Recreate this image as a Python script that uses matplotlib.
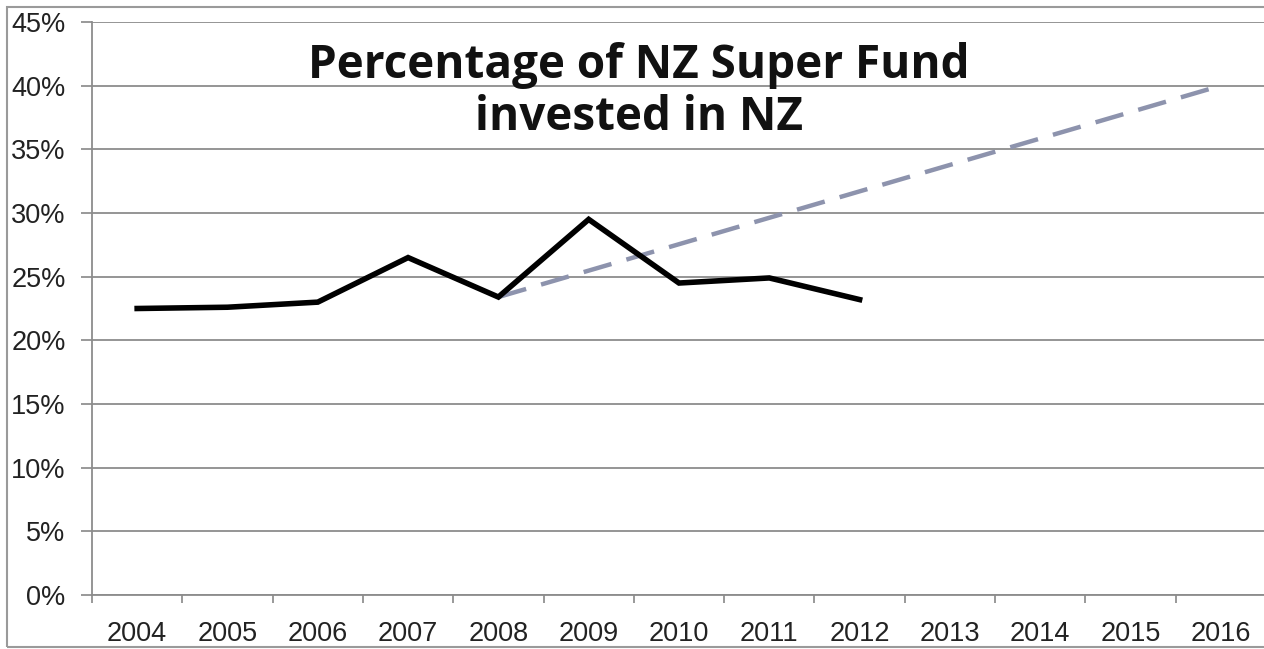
import numpy as np
import matplotlib
matplotlib.use("Agg")
from matplotlib import pyplot as plt
from matplotlib.patches import Rectangle

years = ['2004', '2005', '2006', '2007', '2008', '2009', '2010',
         '2011', '2012', '2013', '2014', '2015', '2016']
actual = [22.5, 22.6, 23.0, 26.5, 23.4, 29.5, 24.5, 24.9, 23.2]
trend_years = ['2008', '2016']
trend = [23.4, 40.0]
y_ticks = [0, 5, 10, 15, 20, 25, 30, 35, 40, 45]
title_lines = ['Percentage of NZ Super Fund', 'invested in NZ']

W, H = 1264, 649
fig = plt.figure(figsize=(W / 100, H / 100), dpi=100)
# axes box in pixels: left 92, right 1266, top 22, bottom 595
ax = fig.add_axes([92 / W, 1 - 595 / H, (1266 - 92) / W, (595 - 22) / H])

x = np.arange(len(years))
xa = [years.index(y) for y in years[:len(actual)]]
xt = [years.index(y) for y in trend_years]

ax.plot(xt, trend, color='#8d93ad', lw=3.2, ls=(0, (6.5, 3.5)), zorder=3,
        solid_capstyle='butt')
ax.plot(xa, actual, color='black', lw=4, zorder=4, solid_joinstyle='miter')

ax.set_xlim(-0.5, len(years) - 0.5)
ax.set_ylim(0, 45)
ax.set_yticks(y_ticks)
ax.set_yticklabels([f'{v}%' for v in y_ticks], fontsize=19.5,
                   family='Liberation Sans', color='#222222')
ax.set_xticks(x)
ax.set_xticklabels(years, fontsize=19.5, family='Liberation Sans',
                   color='#222222')
ax.tick_params(axis='x', length=0, pad=19)
ax.tick_params(axis='y', length=8, color='#888888', width=1.2, pad=11)
ax.set_xticks(np.arange(-0.5, len(years)), minor=True)
ax.tick_params(axis='x', which='minor', length=6, color='#888888', width=1.2)

ax.grid(axis='y', color='#8c8c8c', lw=1.3)
ax.set_axisbelow(True)
for s in ['top', 'right']:
    ax.spines[s].set_visible(False)
for s in ['left', 'bottom']:
    ax.spines[s].set_color('#8c8c8c')
    ax.spines[s].set_linewidth(1.3)

for line, base in zip(title_lines, [78, 130]):
    fig.text(639 / W, 1 - base / H, line, ha='center', va='baseline',
             fontsize=33, fontweight='bold', family='Open Sans',
             color='#111111')

fig.patches.append(Rectangle((7 / W, 1 - 647 / H), 1.0, (647 - 7) / H,
                             transform=fig.transFigure, fill=False,
                             edgecolor='#9a9a9a', lw=1.5))

fig.savefig('out.png', dpi=100)
